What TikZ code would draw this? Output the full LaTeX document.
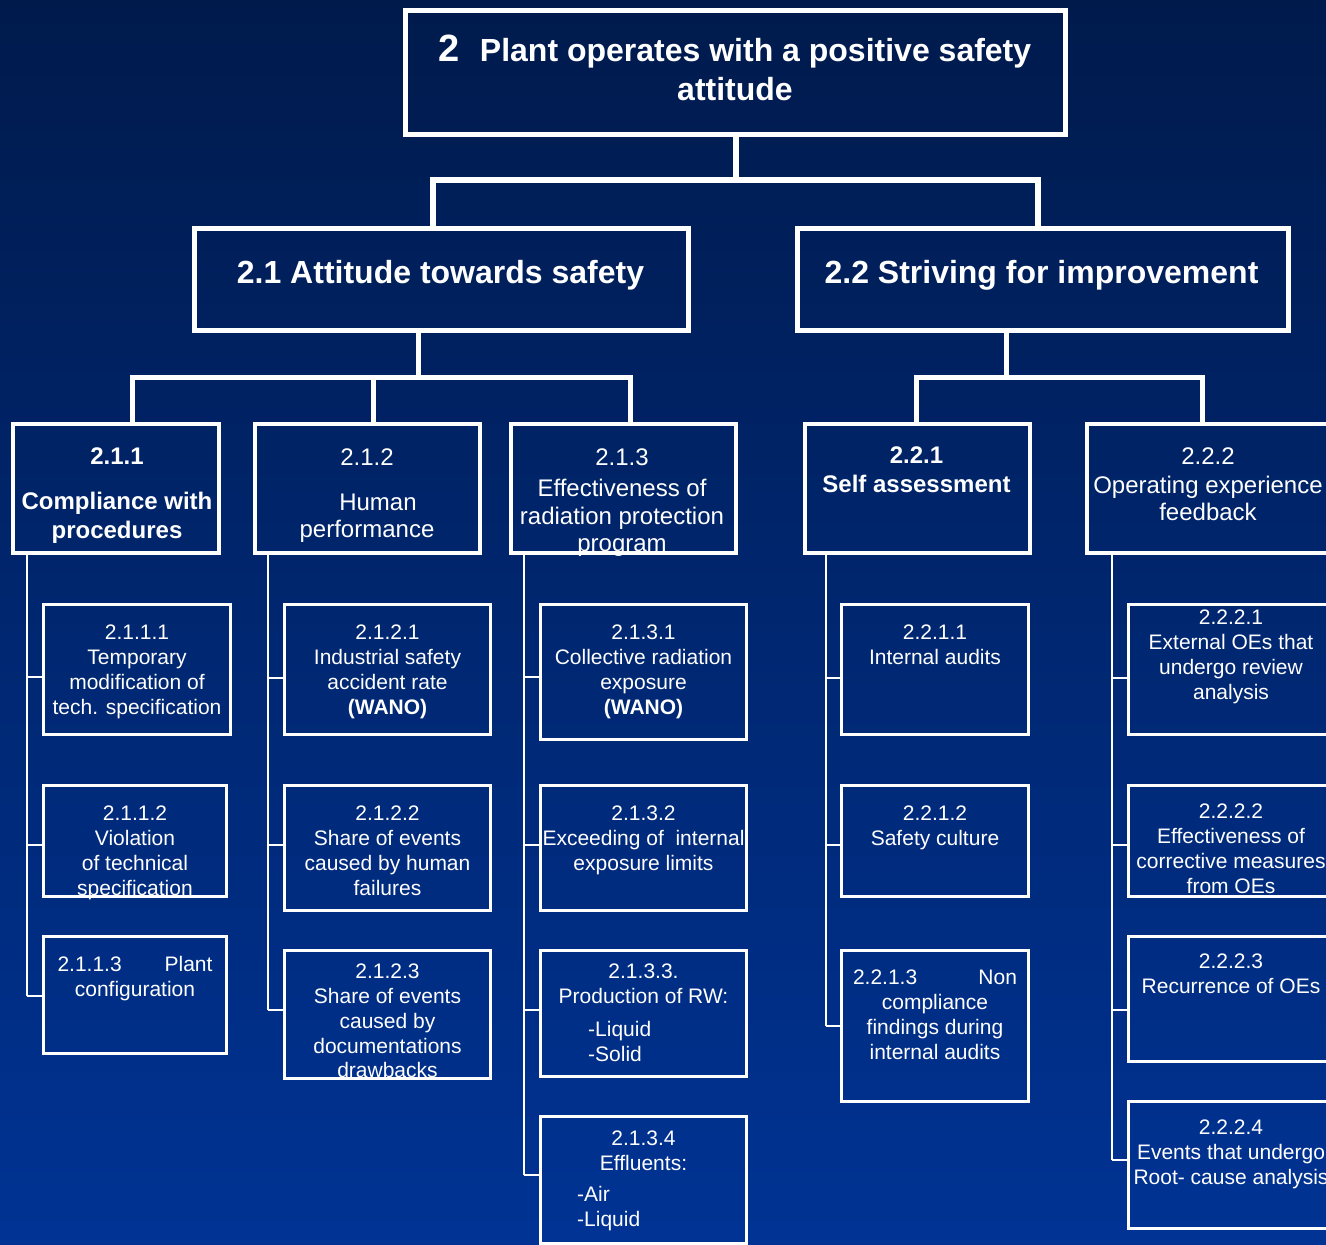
\documentclass[tikz,border=0pt]{standalone}
\usepackage{fontspec}
\setmainfont{Liberation Sans}
\definecolor{bgtop}{RGB}{0,26,76}
\definecolor{bgbot}{RGB}{0,51,148}
\begin{document}
\begin{tikzpicture}[x=1pt,y=-1pt,
  box0/.style={draw=white, line width=5.5pt, inner sep=0pt, rectangle},
  box1/.style={draw=white, line width=5pt, inner sep=0pt, rectangle},
  box2/.style={draw=white, line width=4pt, inner sep=0pt, rectangle},
  leaf/.style={draw=white, line width=3pt, inner sep=0pt, rectangle},
  con0/.style={white, line width=6pt},
  con1/.style={white, line width=5pt},
  con2/.style={white, line width=2.5pt},
  txt/.style={text=white, inner sep=0pt, align=center, anchor=north},
  ttop/.style={txt, font=\bfseries\fontsize{32}{38.5}\selectfont},
  tone/.style={text=white, inner sep=0pt, anchor=base, font=\bfseries\fontsize{32}{38}\selectfont},
  tmidb/.style={txt, font=\bfseries\fontsize{24}{29}\selectfont},
  tmid/.style={txt, font=\fontsize{24}{27.5}\selectfont},
  tleaf/.style={txt, font=\fontsize{21}{24.9}\selectfont},
  tlist/.style={text=white, inner sep=0pt, align=left, anchor=north west, font=\fontsize{21}{24.9}\selectfont}
]
\useasboundingbox (0,0) rectangle (1326,1245);
\clip (0,0) rectangle (1326,1245);
\shade[top color=bgtop, bottom color=bgbot] (0,0) rectangle (1326,1245);

% ---------- boxes ----------
\node[box0, minimum width=660pt, minimum height=124pt] (n2) at (735.5,72.5) {};
\node[box1, minimum width=494pt, minimum height=102pt] (n21) at (441,279) {};
\node[box1, minimum width=491pt, minimum height=102pt] (n22) at (1042.5,279) {};

\node[box2, minimum width=206pt, minimum height=129pt] (n211) at (116,488.5) {};
\node[box2, minimum width=225pt, minimum height=129pt] (n212) at (367.5,488.5) {};
\node[box2, minimum width=225pt, minimum height=129pt] (n213) at (623.5,488.5) {};
\node[box2, minimum width=225pt, minimum height=129pt] (n221) at (917.5,488.5) {};
\node[box2, minimum width=253pt, minimum height=129pt] (n222) at (1213.5,488.5) {};

\node[leaf, minimum width=187pt, minimum height=130pt] (l2111) at (137,669.5) {};
\node[leaf, minimum width=183pt, minimum height=111pt] (l2112) at (135,841) {};
\node[leaf, minimum width=183pt, minimum height=117pt] (l2113) at (135,995) {};

\node[leaf, minimum width=206pt, minimum height=130pt] (l2121) at (387.5,669.5) {};
\node[leaf, minimum width=206pt, minimum height=125pt] (l2122) at (387.5,848) {};
\node[leaf, minimum width=206pt, minimum height=128pt] (l2123) at (387.5,1014.5) {};

\node[leaf, minimum width=206pt, minimum height=135pt] (l2131) at (643.5,672) {};
\node[leaf, minimum width=206pt, minimum height=125pt] (l2132) at (643.5,848) {};
\node[leaf, minimum width=206pt, minimum height=126pt] (l2133) at (643.5,1013.5) {};
\node[leaf, minimum width=206pt, minimum height=127pt] (l2134) at (643.5,1180) {};

\node[leaf, minimum width=187pt, minimum height=130pt] (l2211) at (935,669.5) {};
\node[leaf, minimum width=187pt, minimum height=111pt] (l2212) at (935,841) {};
\node[leaf, minimum width=187pt, minimum height=151pt] (l2213) at (935,1026) {};

\node[leaf, minimum width=210pt, minimum height=130pt] (l2221) at (1233.5,669.5) {};
\node[leaf, minimum width=210pt, minimum height=111pt] (l2222) at (1233.5,841) {};
\node[leaf, minimum width=210pt, minimum height=125pt] (l2223) at (1233.5,999) {};
\node[leaf, minimum width=210pt, minimum height=127pt] (l2224) at (1233.5,1165) {};

% ---------- connectors ----------
\coordinate (hL) at (433,180);
\coordinate (hR) at (1038,180);
\coordinate (m21) at (418,377);
\coordinate (d211) at (132,377);
\coordinate (d212) at (373,377);
\coordinate (d213) at (630,377);
\coordinate (m22) at (1006,377);
\coordinate (d221) at (916,377);
\coordinate (d222) at (1202,377);

\draw[con0] (n2.south) -- (n2.south |- hL);
\draw[con0] (n21.north -| hL) -- (hL) -- (hR) -- (n22.north -| hR);
\draw[con1] (n21.south -| m21) -- (m21);
\draw[con1] (n211.north -| d211) -- (d211) -- (d213) -- (n213.north -| d213);
\draw[con1] (d212) -- (n212.north -| d212);
\draw[con1] (n22.south -| m22) -- (m22);
\draw[con1] (n221.north -| d221) -- (d221) -- (d222) -- (n222.north -| d222);

\coordinate (kA1) at (27,677);  \coordinate (kA2) at (27,845);  \coordinate (kA3) at (27,996);
\coordinate (kB1) at (268,678); \coordinate (kB2) at (268,845); \coordinate (kB3) at (268,1010);
\coordinate (kC1) at (524,677); \coordinate (kC2) at (524,845); \coordinate (kC3) at (524,1010); \coordinate (kC4) at (524,1175);
\coordinate (kD1) at (826,678); \coordinate (kD2) at (826,845); \coordinate (kD3) at (826,1026);
\coordinate (kE1) at (1112,678); \coordinate (kE2) at (1112,845); \coordinate (kE3) at (1112,1010); \coordinate (kE4) at (1112,1160);

\draw[con2] (kA1 |- n211.south) -- (kA3);
\draw[con2] (kA1) -- (kA1 -| l2111.west);
\draw[con2] (kA2) -- (kA2 -| l2112.west);
\draw[con2] (kA3) -- (kA3 -| l2113.west);

\draw[con2] (kB1 |- n212.south) -- (kB3);
\draw[con2] (kB1) -- (kB1 -| l2121.west);
\draw[con2] (kB2) -- (kB2 -| l2122.west);
\draw[con2] (kB3) -- (kB3 -| l2123.west);

\draw[con2] (kC1 |- n213.south) -- (kC4);
\draw[con2] (kC1) -- (kC1 -| l2131.west);
\draw[con2] (kC2) -- (kC2 -| l2132.west);
\draw[con2] (kC3) -- (kC3 -| l2133.west);
\draw[con2] (kC4) -- (kC4 -| l2134.west);

\draw[con2] (kD1 |- n221.south) -- (kD3);
\draw[con2] (kD1) -- (kD1 -| l2211.west);
\draw[con2] (kD2) -- (kD2 -| l2212.west);
\draw[con2] (kD3) -- (kD3 -| l2213.west);

\draw[con2] (kE1 |- n222.south) -- (kE4);
\draw[con2] (kE1) -- (kE1 -| l2221.west);
\draw[con2] (kE2) -- (kE2 -| l2222.west);
\draw[con2] (kE3) -- (kE3 -| l2223.west);
\draw[con2] (kE4) -- (kE4 -| l2224.west);

% ---------- texts ----------
\node[ttop] (t2) at (735,35) {{\fontsize{38}{38}\selectfont 2}\hspace{20pt}Plant operates with a positive safety\\attitude};
\node[tone] (t21) at (440.5,283.5) {2.1 Attitude towards safety};
\node[tone] (t22) at (1041.5,283.5) {2.2 Striving for improvement};

\node[tmidb] (t211) at (117,447.4) {2.1.1\\[16pt]Compliance with\\procedures};
\node[tmid] (t212) at (367,448.4) {2.1.2\\[17.5pt]\hspace*{22pt}Human\\performance};
\node[tmid] (t213) at (622,448.4) {2.1.3\\[4pt]Effectiveness of\\radiation protection\\program};
\node[tmidb] (t221) at (916.5,446.4) {2.2.1\\Self assessment};
\node[tmid] (t222) at (1208,447.4) {2.2.2\\[1.5pt]Operating experience\\feedback};

\node[tleaf] (t2111) at (137,624.5) {2.1.1.1\\Temporary\\modification of\\tech. specification};
\node[tleaf] (t2112) at (135,805.5) {2.1.1.2\\Violation\\of technical\\specification};
\node[tleaf] (t2113) at (135,956.5) {\makebox[155pt][s]{2.1.1.3\hfill Plant}\\configuration};

\node[tleaf] (t2121) at (387.5,624.5) {2.1.2.1\\Industrial safety\\accident rate\\\textbf{(WANO)}};
\node[tleaf] (t2122) at (387.5,805.5) {2.1.2.2\\Share of events\\caused by human\\failures};
\node[tleaf] (t2123) at (387.5,963.5) {2.1.2.3\\Share of events\\caused by\\documentations\\drawbacks};

\node[tleaf] (t2131) at (643.5,624.5) {2.1.3.1\\Collective radiation\\exposure\\\textbf{(WANO)}};
\node[tleaf] (t2132) at (643.5,805.5) {2.1.3.2\\Exceeding of\ \ internal\\exposure limits};
\node[tleaf] (t2133) at (643.5,963.5) {2.1.3.3.\\Production of RW:};
\node[tlist] (t2133b) at (588,1021.5) {-Liquid\\-Solid};
\node[tleaf] (t2134) at (643.5,1130.5) {2.1.3.4\\Effluents:};
\node[tlist] (t2134b) at (577,1186.5) {-Air\\-Liquid};

\node[tleaf] (t2211) at (935,624.5) {2.2.1.1\\Internal audits};
\node[tleaf] (t2212) at (935,805.5) {2.2.1.2\\Safety culture};
\node[tleaf] (t2213) at (935,969.5) {\makebox[164pt][s]{2.2.1.3\hfill Non}\\compliance\\findings during\\internal audits};

\node[tleaf] (t2221) at (1231,609.5) {2.2.2.1\\External OEs that\\undergo review\\analysis};
\node[tleaf] (t2222) at (1231,803.5) {2.2.2.2\\Effectiveness of\\corrective measures\\from OEs};
\node[tleaf] (t2223) at (1231,953.5) {2.2.2.3\\Recurrence of OEs};
\node[tleaf] (t2224) at (1231,1119.5) {2.2.2.4\\Events that undergo\\Root- cause analysis};
\end{tikzpicture}
\end{document}
